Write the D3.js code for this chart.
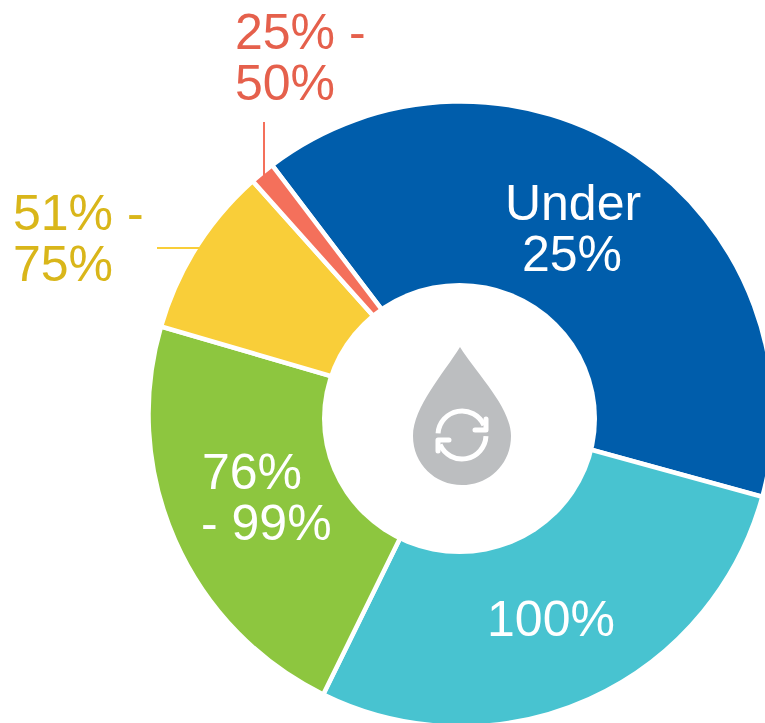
<!DOCTYPE html>
<html>
<head>
<meta charset="utf-8">
<script src="https://cdn.jsdelivr.net/npm/d3@7/dist/d3.min.js"></script>
<style>
html,body{margin:0;padding:0;background:#fff;overflow:hidden}
text{font-family:"Liberation Sans",Arial,sans-serif}
</style>
</head>
<body>
<svg id="chart" width="765" height="723"></svg>
<script>
const categories = ["Under 25%", "100%", "76% - 99%", "51% - 75%", "25% - 50%"]
const shares = [39.6, 28, 22.25, 8.87, 1.28]
const colors = ["#005dab", "#48c3d0", "#8dc63f", "#f9ce39", "#f4705b"]

const cx = 461, cy = 414, outerR = 312.5, innerR = 120
const startDeg = -37.2

const svg = d3.select("#chart")
const g = svg.append("g").attr("transform", "translate(" + cx + "," + cy + ")")

const pie = d3.pie().sort(null).value(d => d)
  .startAngle(startDeg * Math.PI / 180)
  .endAngle((startDeg + 360) * Math.PI / 180)
const arc = d3.arc().innerRadius(innerR).outerRadius(outerR)

g.selectAll("path.slice").data(pie(shares)).join("path")
  .attr("class", "slice")
  .attr("d", arc)
  .attr("fill", (d, i) => colors[i])
  .attr("stroke", "#fff")
  .attr("stroke-width", 4.5)

// the hole sits a little lower than the ring's centre in the original
svg.append("ellipse").attr("cx", 459.5).attr("cy", 418.5).attr("rx", 137.5).attr("ry", 135.5).attr("fill", "#fff")

// leader lines for the two small slices
svg.append("line").attr("x1", 264).attr("x2", 264).attr("y1", 122).attr("y2", 176)
  .attr("stroke", colors[4]).attr("stroke-width", 2)
svg.append("line").attr("x1", 157).attr("x2", 201).attr("y1", 248).attr("y2", 248)
  .attr("stroke", colors[3]).attr("stroke-width", 2)

// labels, one tspan per line
const labelSpots = [
  {lines: ["Under", "25%"], x: [573, 572], y: 220, color: "#fff", anchor: "middle"},
  {lines: ["100%"], x: [551], y: 636, color: "#fff", anchor: "middle"},
  {lines: ["76%", "- 99%"], x: [202, 201], y: 489, color: "#fff", anchor: "start"},
  {lines: ["51% -", "75%"], x: [13, 13], y: 230, color: "#d9b61a", anchor: "start"},
  {lines: ["25% -", "50%"], x: [235, 235], y: 49, color: "#e5604c", anchor: "start"}
]
labelSpots.forEach(l => {
  const t = svg.append("text")
    .attr("text-anchor", l.anchor)
    .attr("font-size", 50)
    .attr("fill", l.color)
  l.lines.forEach((s, i) => {
    t.append("tspan").attr("x", l.x[i]).attr("y", l.y + i * 51).text(s)
  })
})

// water drop icon in the hole
const icon = svg.append("g").attr("transform", "translate(462,435)")
icon.append("path")
  .attr("d", "M-2,-88 C14,-62 49,-28 49,1 C49,29 27,50 0,50 C-27,50 -49,29 -49,1 C-49,-28 -18,-62 -2,-88 Z")
  .attr("fill", "#bcbec0")

const ring = d3.arc().innerRadius(24).outerRadius(24)
icon.append("path")
  .attr("d", ring({startAngle: -1.5, endAngle: 1.15}))
  .attr("fill", "none").attr("stroke", "#fff").attr("stroke-width", 5).attr("stroke-linecap", "round")
icon.append("path")
  .attr("d", ring({startAngle: 1.62, endAngle: 4.3}))
  .attr("fill", "none").attr("stroke", "#fff").attr("stroke-width", 5).attr("stroke-linecap", "round")
icon.append("path")
  .attr("d", "M24,-16 L24,-5 L13,-5")
  .attr("fill", "none").attr("stroke", "#fff").attr("stroke-width", 5).attr("stroke-linecap", "round").attr("stroke-linejoin", "round")
icon.append("path")
  .attr("d", "M-24,16 L-24,5 L-13,5")
  .attr("fill", "none").attr("stroke", "#fff").attr("stroke-width", 5).attr("stroke-linecap", "round").attr("stroke-linejoin", "round")
</script>
</body>
</html>
